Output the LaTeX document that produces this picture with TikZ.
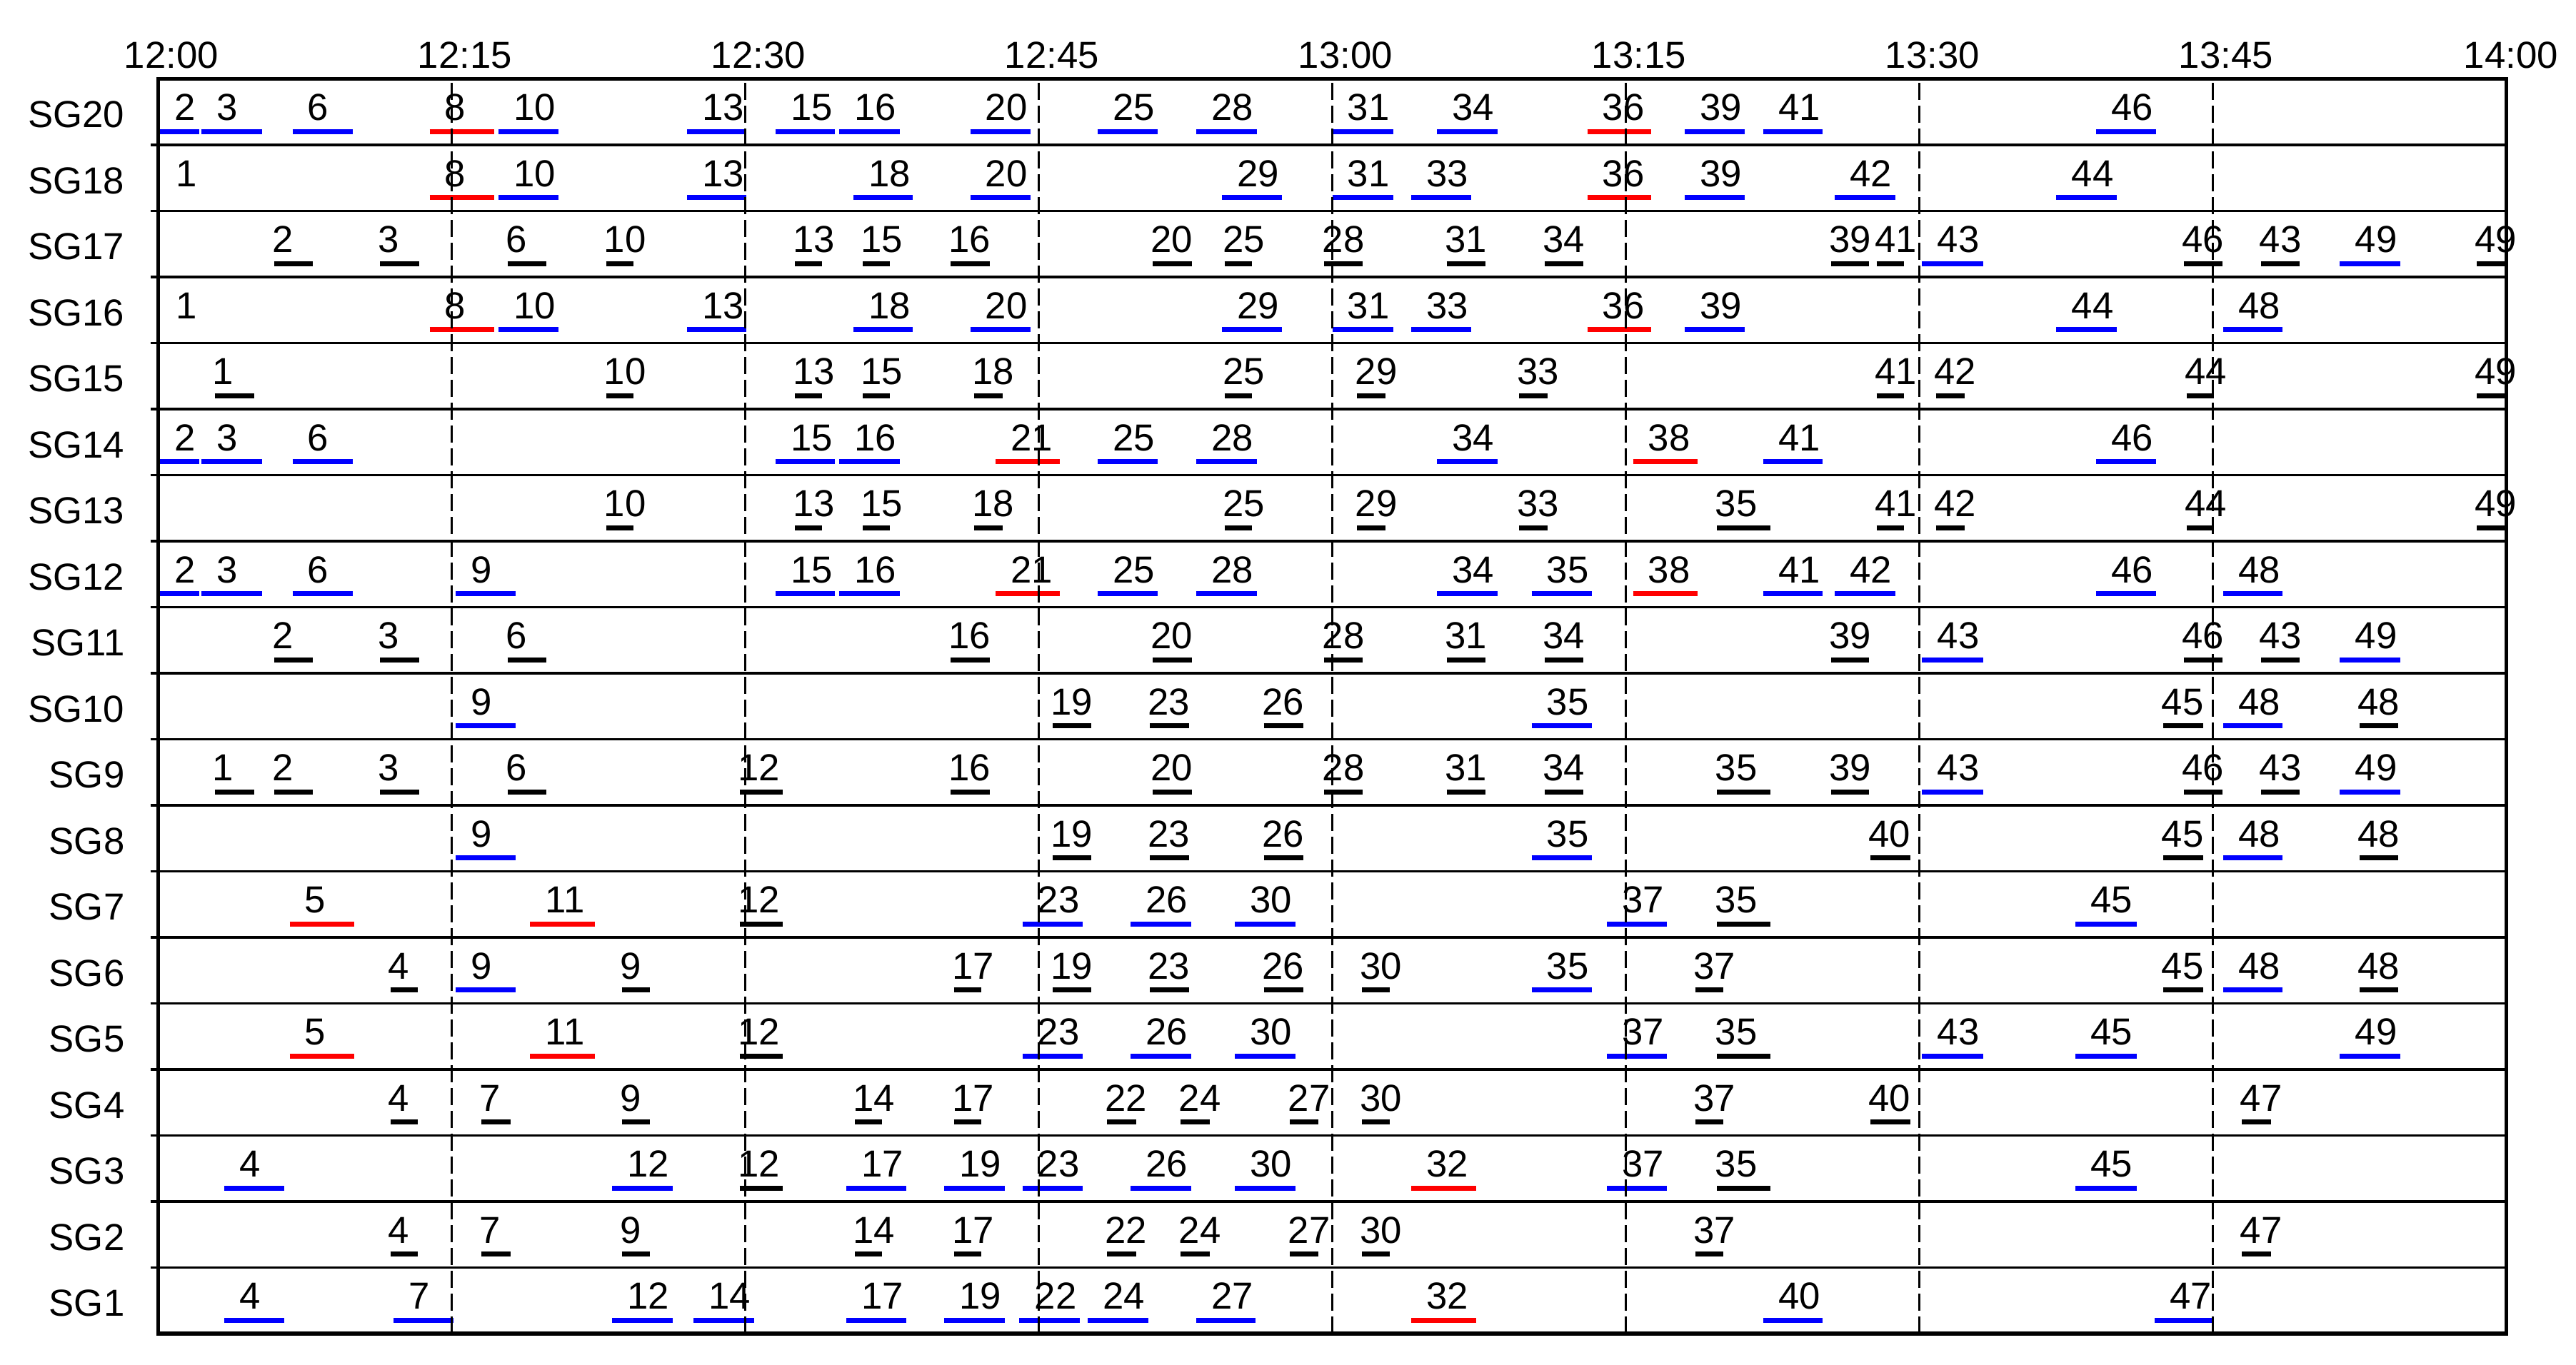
\documentclass[tikz,border=0pt]{standalone}
\usepackage{fontspec}
\setmainfont{Liberation Sans}
\newcounter{nn}
\tikzset{
 sbar/.style={line width=0.07cm},
 num/.style={anchor=base west, inner sep=0pt, font=\fontsize{15}{18}\selectfont},
 rowlab/.style={anchor=base east, inner sep=0pt, font=\fontsize{15}{18}\selectfont},
 axlab/.style={anchor=base, inner sep=0pt, font=\fontsize{15}{18}\selectfont},
 rowline/.style={line width=0.9pt},
 outerframe/.style={line width=1.6pt},
 vgrid/.style={line width=0.7pt, black, dash pattern=on 0.24cm off 0.08cm},
}
\newcommand\Cb[5]{\stepcounter{nn}\draw[sbar,#4] (#2,#1+0.2) -- (#3,#1+0.2);\node[num] (n\arabic{nn}) at (#2+0.75,#1+0.37) {#5};}
\newcommand\Kb[4]{\stepcounter{nn}\draw[sbar,black] (#2,#1+0.2) -- (#3,#1+0.2);\node[num] (n\arabic{nn}) at (#2-0.12,#1+0.37) {#4};}
\begin{document}
\begin{tikzpicture}
\useasboundingbox (0,0) rectangle (36.07,19.12);
\begin{scope}[shift={(2.216cm,0.44cm)}, x=0.274cm, y=0.925cm]
% row labels
\foreach \r/\lab in {18/SG20,17/SG18,16/SG17,15/SG16,14/SG15,13/SG14,12/SG13,11/SG12,10/SG11,9/SG10,8/SG9,7/SG8,6/SG7,5/SG6,4/SG5,3/SG4,2/SG3,1/SG2,0/SG1}
  \node[rowlab] (row\lab) at (-1.70,\r+0.26) {\lab};
% axis labels
\foreach \t/\lab in {0/12:00,15/12:15,30/12:30,45/12:45,60/13:00,75/13:15,90/13:30,105/13:45}
  \node[axlab] (ax\t) at (\t+0.66,19.163) {\lab};
\node[axlab] (ax120) at (120.22,19.163) {14:00};
% SG20
\Cb{18}{0.05}{2.09}{blue}{2}
\Cb{18}{2.21}{5.29}{blue}{3}
\Cb{18}{6.86}{9.94}{blue}{6}
\Cb{18}{13.87}{17.15}{red}{8}
\Cb{18}{17.38}{20.44}{blue}{10}
\Cb{18}{27.03}{30.06}{blue}{13}
\Cb{18}{31.54}{34.59}{blue}{15}
\Cb{18}{34.8}{37.9}{blue}{16}
\Cb{18}{41.5}{44.56}{blue}{20}
\Cb{18}{48.0}{51.08}{blue}{25}
\Cb{18}{53.04}{56.15}{blue}{28}
\Cb{18}{60.0}{63.1}{blue}{31}
\Cb{18}{65.35}{68.44}{blue}{34}
\Cb{18}{73.03}{76.3}{red}{36}
\Cb{18}{78.0}{81.07}{blue}{39}
\Cb{18}{82.02}{85.06}{blue}{41}
\Cb{18}{99.02}{102.08}{blue}{46}
% SG18
\node[num] (sg18one) at (0.87,17.37) {1};
\Cb{17}{13.87}{17.15}{red}{8}
\Cb{17}{17.38}{20.44}{blue}{10}
\Cb{17}{27.03}{30.06}{blue}{13}
\Cb{17}{35.52}{38.57}{blue}{18}
\Cb{17}{41.5}{44.56}{blue}{20}
\Cb{17}{54.35}{57.43}{blue}{29}
\Cb{17}{60.0}{63.1}{blue}{31}
\Cb{17}{64.04}{67.1}{blue}{33}
\Cb{17}{73.03}{76.3}{red}{36}
\Cb{17}{78.0}{81.07}{blue}{39}
\Cb{17}{85.67}{88.76}{blue}{42}
\Cb{17}{97.0}{100.08}{blue}{44}
% SG17
\Kb{16}{5.93}{7.91}{2}
\Kb{16}{11.34}{13.34}{3}
\Kb{16}{17.85}{19.83}{6}
\Kb{16}{22.88}{24.27}{10}
\Kb{16}{32.53}{33.92}{13}
\Kb{16}{36.0}{37.4}{15}
\Kb{16}{40.49}{42.5}{16}
\Kb{16}{50.82}{52.83}{20}
\Kb{16}{54.49}{55.89}{25}
\Kb{16}{59.59}{61.56}{28}
\Kb{16}{65.84}{67.82}{31}
\Kb{16}{70.85}{72.83}{34}
\Kb{16}{85.48}{87.44}{39}
\Kb{16}{87.81}{89.21}{41}
\Cb{16}{90.14}{93.26}{blue}{43}
\Kb{16}{103.51}{105.48}{46}
\Kb{16}{107.47}{109.44}{43}
\Cb{16}{111.49}{114.58}{blue}{49}
\Kb{16}{118.48}{119.89}{49}
% SG16
\node[num] (sg16one) at (0.87,15.37) {1};
\Cb{15}{13.87}{17.15}{red}{8}
\Cb{15}{17.38}{20.44}{blue}{10}
\Cb{15}{27.03}{30.06}{blue}{13}
\Cb{15}{35.52}{38.57}{blue}{18}
\Cb{15}{41.5}{44.56}{blue}{20}
\Cb{15}{54.35}{57.43}{blue}{29}
\Cb{15}{60.0}{63.1}{blue}{31}
\Cb{15}{64.04}{67.1}{blue}{33}
\Cb{15}{73.03}{76.3}{red}{36}
\Cb{15}{78.0}{81.07}{blue}{39}
\Cb{15}{97.0}{100.08}{blue}{44}
\Cb{15}{105.53}{108.57}{blue}{48}
% SG15
\Kb{14}{2.88}{4.91}{1}
\Kb{14}{22.88}{24.27}{10}
\Kb{14}{32.53}{33.92}{13}
\Kb{14}{36.0}{37.4}{15}
\Kb{14}{41.68}{43.14}{18}
\Kb{14}{54.49}{55.89}{25}
\Kb{14}{61.27}{62.73}{29}
\Kb{14}{69.54}{71.0}{33}
\Kb{14}{87.81}{89.21}{41}
\Kb{14}{90.84}{92.3}{42}
\Kb{14}{103.65}{105.06}{44}
\Kb{14}{118.48}{119.89}{49}
% SG14
\Cb{13}{0.05}{2.09}{blue}{2}
\Cb{13}{2.21}{5.29}{blue}{3}
\Cb{13}{6.86}{9.94}{blue}{6}
\Cb{13}{31.54}{34.59}{blue}{15}
\Cb{13}{34.8}{37.9}{blue}{16}
\Cb{13}{42.79}{46.08}{red}{21}
\Cb{13}{48.0}{51.08}{blue}{25}
\Cb{13}{53.04}{56.15}{blue}{28}
\Cb{13}{65.35}{68.44}{blue}{34}
\Cb{13}{75.36}{78.68}{red}{38}
\Cb{13}{82.02}{85.06}{blue}{41}
\Cb{13}{99.02}{102.08}{blue}{46}
% SG13
\Kb{12}{22.88}{24.27}{10}
\Kb{12}{32.53}{33.92}{13}
\Kb{12}{36.0}{37.4}{15}
\Kb{12}{41.68}{43.14}{18}
\Kb{12}{54.49}{55.89}{25}
\Kb{12}{61.27}{62.73}{29}
\Kb{12}{69.54}{71.0}{33}
\Kb{12}{79.66}{82.39}{35}
\Kb{12}{87.81}{89.21}{41}
\Kb{12}{90.84}{92.3}{42}
\Kb{12}{103.65}{105.06}{44}
\Kb{12}{118.48}{119.89}{49}
% SG12
\Cb{11}{0.05}{2.09}{blue}{2}
\Cb{11}{2.21}{5.29}{blue}{3}
\Cb{11}{6.86}{9.94}{blue}{6}
\Cb{11}{15.2}{18.28}{blue}{9}
\Cb{11}{31.54}{34.59}{blue}{15}
\Cb{11}{34.8}{37.9}{blue}{16}
\Cb{11}{42.79}{46.08}{red}{21}
\Cb{11}{48.0}{51.08}{blue}{25}
\Cb{11}{53.04}{56.15}{blue}{28}
\Cb{11}{65.35}{68.44}{blue}{34}
\Cb{11}{70.18}{73.27}{blue}{35}
\Cb{11}{75.36}{78.68}{red}{38}
\Cb{11}{82.02}{85.06}{blue}{41}
\Cb{11}{85.67}{88.76}{blue}{42}
\Cb{11}{99.02}{102.08}{blue}{46}
\Cb{11}{105.53}{108.57}{blue}{48}
% SG11
\Kb{10}{5.93}{7.91}{2}
\Kb{10}{11.34}{13.34}{3}
\Kb{10}{17.85}{19.83}{6}
\Kb{10}{40.49}{42.5}{16}
\Kb{10}{50.82}{52.83}{20}
\Kb{10}{59.59}{61.56}{28}
\Kb{10}{65.84}{67.82}{31}
\Kb{10}{70.85}{72.83}{34}
\Kb{10}{85.48}{87.44}{39}
\Cb{10}{90.14}{93.26}{blue}{43}
\Kb{10}{103.51}{105.48}{46}
\Kb{10}{107.47}{109.44}{43}
\Cb{10}{111.49}{114.58}{blue}{49}
% SG10
\Cb{9}{15.2}{18.28}{blue}{9}
\Kb{9}{45.7}{47.68}{19}
\Kb{9}{50.68}{52.69}{23}
\Kb{9}{56.5}{58.51}{26}
\Cb{9}{70.18}{73.27}{blue}{35}
\Kb{9}{102.47}{104.49}{45}
\Cb{9}{105.53}{108.57}{blue}{48}
\Kb{9}{112.5}{114.47}{48}
% SG9
\Kb{8}{2.88}{4.91}{1}
\Kb{8}{5.93}{7.91}{2}
\Kb{8}{11.34}{13.34}{3}
\Kb{8}{17.85}{19.83}{6}
\Kb{8}{29.71}{31.92}{12}
\Kb{8}{40.49}{42.5}{16}
\Kb{8}{50.82}{52.83}{20}
\Kb{8}{59.59}{61.56}{28}
\Kb{8}{65.84}{67.82}{31}
\Kb{8}{70.85}{72.83}{34}
\Kb{8}{79.66}{82.39}{35}
\Kb{8}{85.48}{87.44}{39}
\Cb{8}{90.14}{93.26}{blue}{43}
\Kb{8}{103.51}{105.48}{46}
\Kb{8}{107.47}{109.44}{43}
\Cb{8}{111.49}{114.58}{blue}{49}
% SG8
\Cb{7}{15.2}{18.28}{blue}{9}
\Kb{7}{45.7}{47.68}{19}
\Kb{7}{50.68}{52.69}{23}
\Kb{7}{56.5}{58.51}{26}
\Cb{7}{70.18}{73.27}{blue}{35}
\Kb{7}{87.5}{89.55}{40}
\Kb{7}{102.47}{104.49}{45}
\Cb{7}{105.53}{108.57}{blue}{48}
\Kb{7}{112.5}{114.47}{48}
% SG7
\Cb{6}{6.72}{10.0}{red}{5}
\Cb{6}{19.01}{22.33}{red}{11}
\Kb{6}{29.71}{31.92}{12}
\Cb{6}{44.16}{47.24}{blue}{23}
\Cb{6}{49.69}{52.77}{blue}{26}
\Cb{6}{55.01}{58.1}{blue}{30}
\Cb{6}{74.02}{77.11}{blue}{37}
\Kb{6}{79.66}{82.39}{35}
\Cb{6}{97.98}{101.1}{blue}{45}
% SG6
\Kb{5}{11.86}{13.26}{4}
\Cb{5}{15.2}{18.28}{blue}{9}
\Kb{5}{23.69}{25.12}{9}
\Kb{5}{40.66}{42.06}{17}
\Kb{5}{45.7}{47.68}{19}
\Kb{5}{50.68}{52.69}{23}
\Kb{5}{56.5}{58.51}{26}
\Kb{5}{61.51}{62.93}{30}
\Cb{5}{70.18}{73.27}{blue}{35}
\Kb{5}{78.54}{79.96}{37}
\Kb{5}{102.47}{104.49}{45}
\Cb{5}{105.53}{108.57}{blue}{48}
\Kb{5}{112.5}{114.47}{48}
% SG5
\Cb{4}{6.72}{10.0}{red}{5}
\Cb{4}{19.01}{22.33}{red}{11}
\Kb{4}{29.71}{31.92}{12}
\Cb{4}{44.16}{47.24}{blue}{23}
\Cb{4}{49.69}{52.77}{blue}{26}
\Cb{4}{55.01}{58.1}{blue}{30}
\Cb{4}{74.02}{77.11}{blue}{37}
\Kb{4}{79.66}{82.39}{35}
\Cb{4}{90.14}{93.26}{blue}{43}
\Cb{4}{97.98}{101.1}{blue}{45}
\Cb{4}{111.49}{114.58}{blue}{49}
% SG4
\Kb{3}{11.86}{13.26}{4}
\Kb{3}{16.51}{18.0}{7}
\Kb{3}{23.69}{25.12}{9}
\Kb{3}{35.6}{37.0}{14}
\Kb{3}{40.66}{42.06}{17}
\Kb{3}{48.49}{49.98}{22}
\Kb{3}{52.25}{53.73}{24}
\Kb{3}{57.84}{59.29}{27}
\Kb{3}{61.51}{62.93}{30}
\Kb{3}{78.54}{79.96}{37}
\Kb{3}{87.5}{89.55}{40}
\Kb{3}{106.49}{107.98}{47}
% SG3
\Cb{2}{3.37}{6.45}{blue}{4}
\Cb{2}{23.2}{26.28}{blue}{12}
\Kb{2}{29.71}{31.92}{12}
\Cb{2}{35.17}{38.22}{blue}{17}
\Cb{2}{40.17}{43.25}{blue}{19}
\Cb{2}{44.16}{47.24}{blue}{23}
\Cb{2}{49.69}{52.77}{blue}{26}
\Cb{2}{55.01}{58.1}{blue}{30}
\Cb{2}{64.04}{67.36}{red}{32}
\Cb{2}{74.02}{77.11}{blue}{37}
\Kb{2}{79.66}{82.39}{35}
\Cb{2}{97.98}{101.1}{blue}{45}
% SG2
\Kb{1}{11.86}{13.26}{4}
\Kb{1}{16.51}{18.0}{7}
\Kb{1}{23.69}{25.12}{9}
\Kb{1}{35.6}{37.0}{14}
\Kb{1}{40.66}{42.06}{17}
\Kb{1}{48.49}{49.98}{22}
\Kb{1}{52.25}{53.73}{24}
\Kb{1}{57.84}{59.29}{27}
\Kb{1}{61.51}{62.93}{30}
\Kb{1}{78.54}{79.96}{37}
\Kb{1}{106.49}{107.98}{47}
% SG1
\Cb{0}{3.37}{6.45}{blue}{4}
\Cb{0}{12.03}{15.09}{blue}{7}
\Cb{0}{23.2}{26.28}{blue}{12}
\Cb{0}{27.35}{30.44}{blue}{14}
\Cb{0}{35.17}{38.22}{blue}{17}
\Cb{0}{40.17}{43.25}{blue}{19}
\Cb{0}{44.01}{47.1}{blue}{22}
\Cb{0}{47.5}{50.59}{blue}{24}
\Cb{0}{53.04}{56.09}{blue}{27}
\Cb{0}{64.04}{67.36}{red}{32}
\Cb{0}{82.02}{85.06}{blue}{40}
\Cb{0}{102.02}{105.06}{blue}{47}
% grid
\foreach \t in {15,30,...,105} \draw[vgrid] (\t,0) -- (\t,19);
\foreach \r in {1,...,18} \draw[rowline] (-0.4,\r) -- (120,\r);
\draw[outerframe] (0,0) rectangle (120,19);
\end{scope}
\end{tikzpicture}
\end{document}
